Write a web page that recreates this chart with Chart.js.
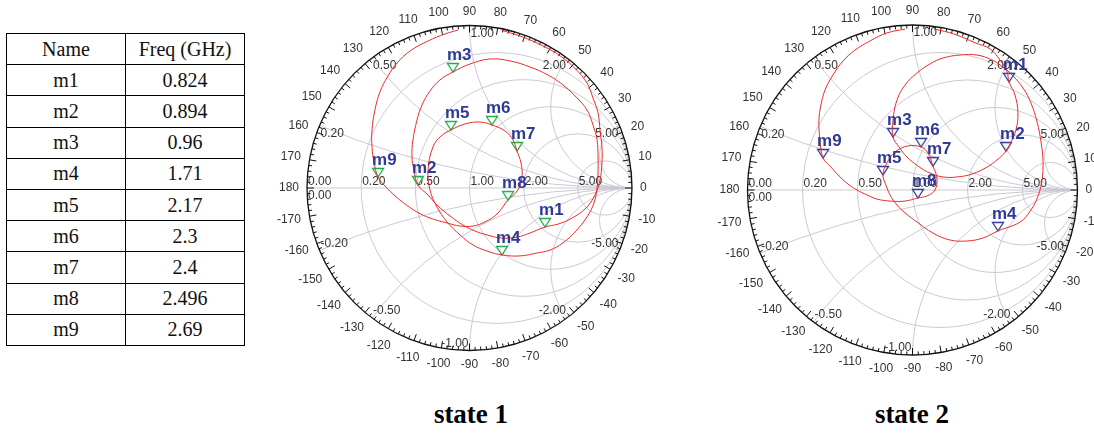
<!DOCTYPE html>
<html>
<head>
<meta charset="utf-8">
<script src="https://cdn.jsdelivr.net/npm/chart.js@4.4.0/dist/chart.umd.min.js"></script>
<style>
html, body { margin: 0; padding: 0; background: #fff; width: 1094px; height: 433px; overflow: hidden; }
#wrap { position: relative; width: 1094px; height: 433px; }
canvas { position: absolute; }
#tbl { position: absolute; left: 6px; top: 33px; width: 239px; height: 313px; border-collapse: collapse;
       font-family: "Liberation Serif", "Times New Roman", serif; font-size: 20px; color: #111; }
#tbl td { border: 1.6px solid #000; text-align: center; padding: 0; width: 50%; }
.title { position: absolute; width: 200px; text-align: center; top: 399px;
         font-family: "Liberation Serif", "Times New Roman", serif; font-weight: bold; font-size: 27px; }
</style>
</head>
<body>
<div id="wrap">
  <table id="tbl"></table>
  <canvas id="smith1"></canvas>
  <canvas id="smith2"></canvas>
  <div class="title" style="left:371px">state 1</div>
  <div class="title" style="left:812px">state 2</div>
</div>
<script>
// ---- data ----
const markerNames = ['m1', 'm2', 'm3', 'm4', 'm5', 'm6', 'm7', 'm8', 'm9'];
const markerFreqs = ['0.824', '0.894', '0.96', '1.71', '2.17', '2.3', '2.4', '2.496', '2.69'];

const angleLabels = [-170, -160, -150, -140, -130, -120, -110, -100, -90, -80, -70, -60, -50, -40, -30, -20, -10,
    0, 10, 20, 30, 40, 50, 60, 70, 80, 90, 100, 110, 120, 130, 140, 150, 160, 170, 180];
const resistanceValues = [0.2, 0.5, 1, 2, 5];
const reactanceValues = [0.2, 0.5, 1, 2, 5, -0.2, -0.5, -1, -2, -5];

// reflection coefficient (re, im) of the trace, state 1
const state1Re = [0.200, 0.334, 0.464, 0.564, 0.655, 0.723, 0.760, 0.791, 0.803, 0.815, 0.815, 0.803, 0.772, 0.717, 0.631, 0.545,
    0.465, 0.372, 0.292, 0.200, 0.108, 0.034, -0.040, -0.120, -0.200, -0.255,
    -0.317, -0.342, -0.354, -0.348, -0.323, -0.292, -0.243, -0.182,
    -0.102, 0.003, 0.126, 0.249, 0.372, 0.483, 0.575, 0.662, 0.723, 0.760, 0.785, 0.791, 0.791, 0.785, 0.766, 0.723, 0.655, 0.575, 0.495, 0.415, 0.311,
    0.200, 0.108, 0.022, -0.058, -0.138, -0.200, -0.243, -0.255, -0.225, -0.175,
    -0.114, -0.028, 0.065, 0.138, 0.218, 0.268, 0.292, 0.317, 0.323, 0.298,
    0.237, 0.169, 0.095, 0.022, -0.058, -0.138, -0.243, -0.323, -0.397, -0.458, -0.520,
    -0.563, -0.588, -0.600, -0.600, -0.582, -0.551, -0.502, -0.446, -0.366, -0.255, -0.151, -0.071];
const state1Im = [0.970, 0.927, 0.868, 0.809, 0.730, 0.646, 0.554, 0.462, 0.357, 0.252, 0.154, 0.049, -0.043, -0.123, -0.185, -0.222,
    -0.240, -0.277, -0.302, -0.308, -0.289, -0.265, -0.228, -0.172, -0.105, -0.043,
    0.018, 0.111, 0.191, 0.295, 0.418, 0.511, 0.597, 0.665,
    0.714, 0.763, 0.794, 0.782, 0.745, 0.695, 0.634, 0.554, 0.480, 0.388, 0.295, 0.191, 0.092, 0.000, -0.092, -0.178, -0.265, -0.338, -0.382, -0.400, -0.418,
    -0.412, -0.388, -0.351, -0.289, -0.209, -0.117, -0.012, 0.111, 0.252, 0.320,
    0.357, 0.394, 0.406, 0.388, 0.351, 0.295, 0.228, 0.154, 0.068, -0.012,
    -0.074, -0.160, -0.209, -0.234, -0.234, -0.215, -0.185, -0.148, -0.098, -0.049, 0.012,
    0.068, 0.160, 0.252, 0.357, 0.480, 0.591, 0.689, 0.769, 0.843, 0.905, 0.948, 0.972];
const state1MarkRe = [0.465, -0.317, -0.102, 0.200, -0.114, 0.138, 0.292, 0.237, -0.563];
const state1MarkIm = [-0.240, 0.018, 0.714, -0.412, 0.357, 0.388, 0.228, -0.074, 0.068];

// reflection coefficient (re, im) of the trace, state 2
const state2Re = [0.135, 0.252, 0.385, 0.470, 0.530, 0.573,
    0.585, 0.621, 0.639, 0.627, 0.597,
    0.567, 0.512, 0.452, 0.361, 0.270, 0.185, 0.106, 0.033, -0.033, -0.082,
    -0.118, -0.118, -0.094, -0.045, 0.027, 0.106, 0.185, 0.288, 0.391, 0.482, 0.548, 0.609, 0.670, 0.718, 0.755, 0.779, 0.791, 0.785, 0.761, 0.718, 0.652,
    0.518, 0.427, 0.330, 0.227, 0.124, 0.027, -0.045, -0.094, -0.136, -0.161,
    -0.179, -0.155, -0.106, -0.027,
    0.052, 0.094,
    0.124, 0.148, 0.136, 0.088,
    0.033, -0.045, -0.136, -0.215, -0.276, -0.336, -0.391, -0.445, -0.494,
    -0.542, -0.561, -0.567, -0.555, -0.530, -0.482, -0.421, -0.348, -0.258, -0.155, -0.045];
const state2Im = [0.975, 0.945, 0.890, 0.855, 0.788, 0.715,
    0.655, 0.576, 0.467, 0.364, 0.291,
    0.236, 0.182, 0.139, 0.097, 0.079, 0.079, 0.103, 0.145, 0.200, 0.261,
    0.321, 0.424, 0.545, 0.636, 0.709, 0.764, 0.800, 0.818, 0.818, 0.788, 0.745, 0.691, 0.618, 0.527, 0.412, 0.291, 0.170, 0.061, -0.036, -0.121, -0.194,
    -0.248, -0.291, -0.309, -0.303, -0.261, -0.194, -0.139, -0.091, -0.030, 0.030,
    0.091, 0.164, 0.230, 0.267,
    0.261, 0.224,
    0.145, 0.073, 0.000, -0.036,
    -0.048, -0.067, -0.067, -0.055, -0.030, 0.000, 0.036, 0.085, 0.139,
    0.194, 0.303, 0.424, 0.515, 0.606, 0.697, 0.782, 0.848, 0.903, 0.952, 0.975];
const state2MarkRe = [0.585, 0.567, -0.118, 0.518, -0.179, 0.052, 0.124, 0.033, -0.542];
const state2MarkIm = [0.655, 0.236, 0.321, -0.248, 0.091, 0.261, 0.145, -0.048, 0.194];

// ---- table ----
const tbl = document.getElementById('tbl');
tbl.innerHTML = '<tr><td>Name</td><td>Freq (GHz)</td></tr>' +
    markerNames.map((n, i) => `<tr><td>${n}</td><td>${markerFreqs[i]}</td></tr>`).join('');

// ---- Smith chart helpers ----
const GRID = '#c9c9d4';
const LABEL = '#333';

function toPoints(re, im) {
    return re.map((v, i) => ({ x: v, y: im[i] }));
}

function markerImage(color) {
    const c = document.createElement('canvas');
    c.width = 14; c.height = 20;
    const g = c.getContext('2d');
    g.fillStyle = 'rgba(255,255,255,0.7)';
    g.strokeStyle = color;
    g.lineWidth = 1.3;
    g.beginPath();
    g.moveTo(1.5, 1.5); g.lineTo(12.5, 1.5); g.lineTo(7, 10); g.closePath();
    g.fill(); g.stroke();
    return c;
}

const smithGrid = {
    id: 'smithGrid',
    beforeDatasetsDraw(chart) {
        const { ctx } = chart;
        const xs = chart.scales.x, ys = chart.scales.y;
        const cx = xs.getPixelForValue(0), cy = ys.getPixelForValue(0);
        const R = xs.getPixelForValue(1) - cx;

        ctx.save();
        ctx.beginPath(); ctx.arc(cx, cy, R, 0, Math.PI * 2); ctx.clip();
        ctx.strokeStyle = GRID; ctx.lineWidth = 1;
        resistanceValues.forEach(r => {
            ctx.beginPath();
            ctx.arc(xs.getPixelForValue(r / (1 + r)), cy, R / (1 + r), 0, Math.PI * 2);
            ctx.stroke();
        });
        reactanceValues.forEach(x => {
            ctx.beginPath();
            ctx.arc(xs.getPixelForValue(1), ys.getPixelForValue(1 / x), R / Math.abs(x), 0, Math.PI * 2);
            ctx.stroke();
        });
        ctx.beginPath(); ctx.moveTo(cx - R, cy); ctx.lineTo(cx + R, cy); ctx.stroke();
        ctx.restore();

        // outer ring + ticks
        ctx.save();
        ctx.strokeStyle = '#111'; ctx.lineWidth = 1.3;
        ctx.beginPath(); ctx.arc(cx, cy, R, 0, Math.PI * 2); ctx.stroke();
        ctx.lineWidth = 1;
        for (let d = 0; d < 360; d += 2) {
            const t = d * Math.PI / 180, len = d % 10 === 0 ? 7 : 3.5;
            ctx.beginPath();
            ctx.moveTo(cx + R * Math.cos(t), cy - R * Math.sin(t));
            ctx.lineTo(cx + (R - len) * Math.cos(t), cy - (R - len) * Math.sin(t));
            ctx.stroke();
        }

        // angle labels
        ctx.font = '12px "Liberation Sans", Arial, sans-serif';
        ctx.fillStyle = LABEL;
        ctx.textAlign = 'center'; ctx.textBaseline = 'middle';
        angleLabels.forEach(d => {
            const t = d * Math.PI / 180, txt = String(d);
            const w = ctx.measureText(txt).width;
            const r = R + 8 + Math.abs(Math.cos(t)) * w / 2 + Math.abs(Math.sin(t)) * 6;
            ctx.fillText(txt, cx + r * Math.cos(t), cy - r * Math.sin(t));
        });

        // resistance labels on the real axis
        ctx.textAlign = 'left'; ctx.textBaseline = 'alphabetic';
        ctx.fillText('0.00', cx - R + 1, cy - 3);
        resistanceValues.forEach(r => {
            ctx.fillText(r.toFixed(2), xs.getPixelForValue((r - 1) / (r + 1)) + 1, cy - 3);
        });
        ctx.textBaseline = 'top';
        ctx.fillText('0.00', cx - R + 1, cy + 2);

        // reactance labels on the rim
        reactanceValues.forEach(x => {
            const t = Math.PI - 2 * Math.atan(Math.abs(x));
            const px = cx + R * Math.cos(t), py = cy + (x > 0 ? -1 : 1) * R * Math.sin(t);
            const left = x === 1 ? true : (x === -1 ? false : Math.cos(t) < 0);
            ctx.textAlign = left ? 'left' : 'right';
            ctx.textBaseline = x > 0 ? 'top' : 'bottom';
            ctx.fillText(x.toFixed(2), px + (left ? 1 : -1), py + (x > 0 ? 2 : -1));
        });
        ctx.restore();
    },
    afterDatasetsDraw(chart) {
        const { ctx } = chart;
        const meta = chart.getDatasetMeta(1);
        ctx.save();
        ctx.font = 'bold 17px "Liberation Sans", Arial, sans-serif';
        ctx.fillStyle = '#2e3a96';
        ctx.textAlign = 'left'; ctx.textBaseline = 'alphabetic';
        meta.data.forEach((pt, i) => {
            ctx.fillText(markerNames[i], pt.x - 6, pt.y - 12);
        });
        ctx.restore();
    }
};

function makeSmith(id, left, width, height, R, traceRe, traceIm, markRe, markIm, markColor) {
    const cv = document.getElementById(id);
    cv.width = width; cv.height = height;
    cv.style.left = left + 'px'; cv.style.top = '0px';
    cv.style.width = width + 'px'; cv.style.height = height + 'px';
    const ax = width / (2 * R), ay = height / (2 * R);
    return new Chart(cv, {
        type: 'scatter',
        data: {
            datasets: [
                {
                    data: toPoints(traceRe, traceIm),
                    showLine: true,
                    borderColor: '#f02a2a',
                    borderWidth: 1,
                    pointRadius: 0,
                    pointHoverRadius: 0,
                    tension: 0.4
                },
                {
                    data: toPoints(markRe, markIm),
                    showLine: false,
                    pointStyle: markerImage(markColor),
                    pointRadius: 7,
                    pointHoverRadius: 7
                }
            ]
        },
        options: {
            responsive: false,
            animation: false,
            devicePixelRatio: 1,
            events: [],
            layout: { padding: 0, autoPadding: false },
            plugins: { legend: { display: false }, tooltip: { enabled: false } },
            scales: {
                x: { type: 'linear', min: -ax, max: ax, display: false },
                y: { type: 'linear', min: -ay, max: ay, display: false }
            }
        },
        plugins: [smithGrid]
    });
}

makeSmith('smith1', 258, 423, 376, 162.5, state1Re, state1Im, state1MarkRe, state1MarkIm, '#1fae4a');
makeSmith('smith2', 697, 431, 380, 165, state2Re, state2Im, state2MarkRe, state2MarkIm, '#2e3a96');
</script>
</body>
</html>
